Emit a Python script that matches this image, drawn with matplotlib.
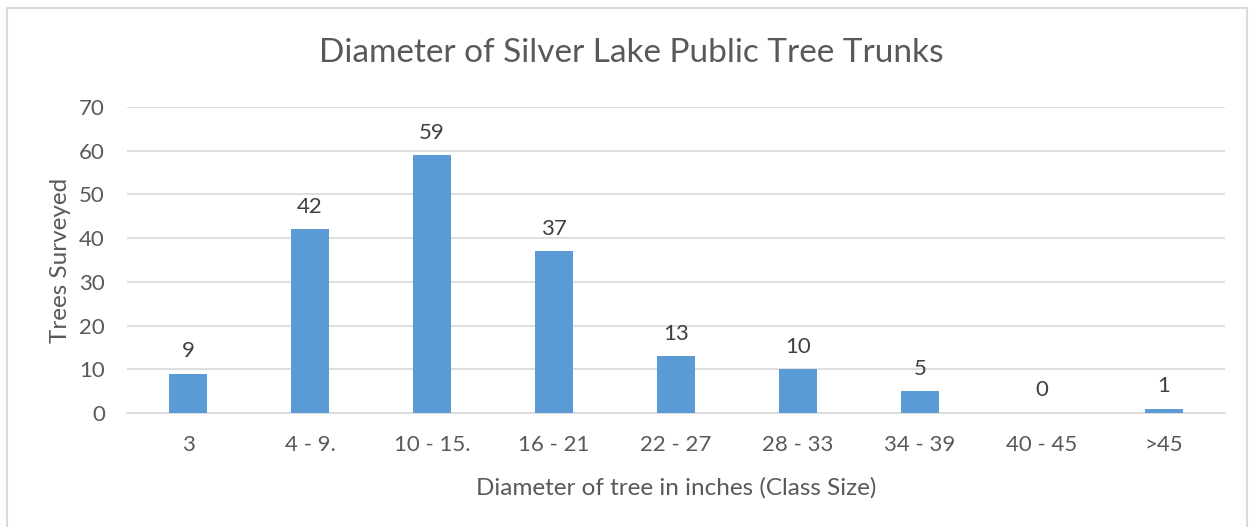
import matplotlib
matplotlib.use("Agg")
import matplotlib.pyplot as plt
from matplotlib.patches import Rectangle

categories = ["3", "4 - 9.", "10 - 15.", "16 - 21", "22 - 27", "28 - 33", "34 - 39", "40 - 45", ">45"]
trees = [9, 42, 59, 37, 13, 10, 5, 0, 1]
yticks = [0, 10, 20, 30, 40, 50, 60, 70]

plt.rcParams['font.family'] = ['Lato', 'DejaVu Sans']
txt = '#595959'

fig = plt.figure(figsize=(12.53, 5.27), dpi=100)
fig.patches.append(Rectangle((7/1253, -0.05), (1247-7)/1253, 1.05 - 8/527, transform=fig.transFigure,
                             fill=False, edgecolor='#d9d9d9', linewidth=1.5))
ax = fig.add_axes([127/1253, 1 - 413/527, (1225-127)/1253, (413-107)/527])
x = list(range(len(categories)))
bars = ax.bar(x, trees, width=0.31, color='#5b9bd5', zorder=3)
for xi, v in zip(x, trees):
    ax.annotate(str(v), (xi, v), xytext=(0, 9), textcoords='offset points',
                ha='center', va='bottom', fontsize=16, color='#404040')
ax.set_xlim(-0.5, len(categories) - 0.5)
ax.set_ylim(0, 70)
ax.set_yticks(yticks)
ax.set_xticks(x)
ax.set_xticklabels(categories)
ax.yaxis.grid(True, color='#d9d9d9', linewidth=1.2, zorder=0)
for s in ['top', 'right', 'left']:
    ax.spines[s].set_visible(False)
ax.spines['bottom'].set_color('#d9d9d9')
ax.spines['bottom'].set_linewidth(1.2)
ax.tick_params(axis='both', length=0, labelsize=16, colors=txt)
ax.tick_params(axis='x', pad=16)
ax.tick_params(axis='y', pad=16)
ax.set_xlabel("Diameter of tree in inches (Class Size)", fontsize=17.5, color=txt, labelpad=16)
ax.set_ylabel("Trees Surveyed", fontsize=17.5, color=txt, labelpad=6)
fig.text(631/1253, 1 - 53/527, "Diameter of Silver Lake Public Tree Trunks", ha='center', va='center',
         fontsize=24, color=txt)
fig.savefig("out.png", dpi=100)
